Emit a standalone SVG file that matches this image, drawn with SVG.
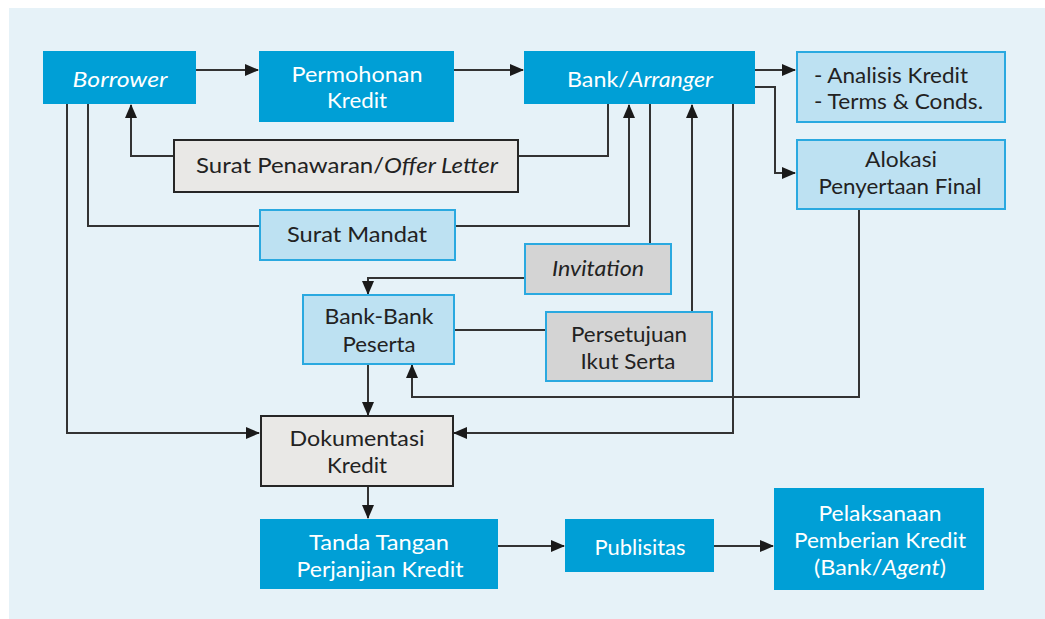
<svg xmlns="http://www.w3.org/2000/svg" width="1045" height="619" viewBox="0 0 1045 619">
<style>
text{font-family:Lato,"Open Sans","Liberation Sans",sans-serif;font-size:21.5px;text-anchor:middle}
.w{fill:#ffffff}
.d{fill:#222222}
.blue{fill:#009fd6;stroke:none}
.lb{fill:#bde1f2;stroke:#2aa9e0;stroke-width:2}
.gr{fill:#d4d4d4;stroke:#2aa9e0;stroke-width:2}
.lg{fill:#e9e8e6;stroke:#262626;stroke-width:2}
.c{fill:none;stroke:#333333;stroke-width:2}
.i{font-style:italic}
</style>
<defs>
<marker id="ah" markerUnits="userSpaceOnUse" markerWidth="14" markerHeight="12" refX="13" refY="6" orient="auto">
<path d="M0,0 L14,6 L0,12 Z" fill="#1a1a1a"/>
</marker>
</defs>
<rect x="0" y="0" width="1045" height="619" fill="#ffffff"/>
<rect x="9" y="8" width="1036" height="611" fill="#e6f2f8"/>

<g id="connectors">
<path class="c" d="M196,70 H258" marker-end="url(#ah)"/>
<path class="c" d="M454,70 H523" marker-end="url(#ah)"/>
<path class="c" d="M755,70 H795" marker-end="url(#ah)"/>
<path class="c" d="M755,87 H775 V173 H795" marker-end="url(#ah)"/>
<path class="c" d="M608,104 V156 H518"/>
<path class="c" d="M173,156 H131 V105" marker-end="url(#ah)"/>
<path class="c" d="M88,104 V226 H259"/>
<path class="c" d="M455,226 H629 V105" marker-end="url(#ah)"/>
<path class="c" d="M650,104 V243"/>
<path class="c" d="M524,278 H368 V294" marker-end="url(#ah)"/>
<path class="c" d="M454,330 H545"/>
<path class="c" d="M692,312 V105" marker-end="url(#ah)"/>
<path class="c" d="M733,104 V433 H454" marker-end="url(#ah)"/>
<path class="c" d="M859,209 V397 H412 V365" marker-end="url(#ah)"/>
<path class="c" d="M67,104 V433 H259" marker-end="url(#ah)"/>
<path class="c" d="M368,364 V415" marker-end="url(#ah)"/>
<path class="c" d="M368,486 V518" marker-end="url(#ah)"/>
<path class="c" d="M498,546 H564" marker-end="url(#ah)"/>
<path class="c" d="M714,546 H773" marker-end="url(#ah)"/>
</g>

<g id="borrower">
<rect class="blue" x="43" y="51" width="153" height="53"/>
<text class="w i" x="120" y="87" textLength="95" lengthAdjust="spacingAndGlyphs">Borrower</text>
</g>
<g id="permohonan">
<rect class="blue" x="259" y="51" width="195" height="71"/>
<text class="w" x="357" y="82" textLength="131" lengthAdjust="spacingAndGlyphs">Permohonan</text>
<text class="w" x="357" y="108" textLength="60" lengthAdjust="spacingAndGlyphs">Kredit</text>
</g>
<g id="arranger">
<rect class="blue" x="524" y="51" width="231" height="53"/>
<text class="w" x="640" y="87" textLength="146" lengthAdjust="spacingAndGlyphs">Bank/<tspan class="i">Arranger</tspan></text>
</g>
<g id="analisis">
<rect class="lb" x="797" y="52" width="208" height="70"/>
<text class="d" x="814" y="83" style="text-anchor:start" textLength="154" lengthAdjust="spacingAndGlyphs">- Analisis Kredit</text>
<text class="d" x="814" y="109" style="text-anchor:start" textLength="169" lengthAdjust="spacingAndGlyphs">- Terms &amp; Conds.</text>
</g>
<g id="alokasi">
<rect class="lb" x="797" y="140" width="208" height="69"/>
<text class="d" x="901" y="167" textLength="72" lengthAdjust="spacingAndGlyphs">Alokasi</text>
<text class="d" x="900" y="194" textLength="163" lengthAdjust="spacingAndGlyphs">Penyertaan Final</text>
</g>
<g id="offer">
<rect class="lg" x="174" y="140" width="344" height="52"/>
<text class="d" x="347" y="173" textLength="302" lengthAdjust="spacingAndGlyphs">Surat Penawaran/<tspan class="i">Offer Letter</tspan></text>
</g>
<g id="mandat">
<rect class="lb" x="260" y="210" width="195" height="50"/>
<text class="d" x="357" y="242" textLength="140" lengthAdjust="spacingAndGlyphs">Surat Mandat</text>
</g>
<g id="invitation">
<rect class="gr" x="525" y="244" width="146" height="50"/>
<text class="d i" x="598" y="276" textLength="92" lengthAdjust="spacingAndGlyphs">Invitation</text>
</g>
<g id="peserta">
<rect class="lb" x="303" y="295" width="151" height="69"/>
<text class="d" x="379" y="324" textLength="109" lengthAdjust="spacingAndGlyphs">Bank-Bank</text>
<text class="d" x="379" y="352" textLength="73" lengthAdjust="spacingAndGlyphs">Peserta</text>
</g>
<g id="persetujuan">
<rect class="gr" x="546" y="312" width="166" height="69"/>
<text class="d" x="629" y="342" textLength="116" lengthAdjust="spacingAndGlyphs">Persetujuan</text>
<text class="d" x="628" y="369" textLength="95" lengthAdjust="spacingAndGlyphs">Ikut Serta</text>
</g>
<g id="dokumentasi">
<rect class="lg" x="261" y="416" width="192" height="70"/>
<text class="d" x="357" y="446" textLength="135" lengthAdjust="spacingAndGlyphs">Dokumentasi</text>
<text class="d" x="357" y="473" textLength="60" lengthAdjust="spacingAndGlyphs">Kredit</text>
</g>
<g id="tandatangan">
<rect class="blue" x="260" y="519" width="238" height="70"/>
<text class="w" x="379" y="550" textLength="140" lengthAdjust="spacingAndGlyphs">Tanda Tangan</text>
<text class="w" x="380" y="577" textLength="167" lengthAdjust="spacingAndGlyphs">Perjanjian Kredit</text>
</g>
<g id="publisitas">
<rect class="blue" x="565" y="519" width="149" height="53"/>
<text class="w" x="640" y="555" textLength="91" lengthAdjust="spacingAndGlyphs">Publisitas</text>
</g>
<g id="pelaksanaan">
<rect class="blue" x="774" y="488" width="210" height="102"/>
<text class="w" x="880" y="521" textLength="123" lengthAdjust="spacingAndGlyphs">Pelaksanaan</text>
<text class="w" x="880" y="548" textLength="172" lengthAdjust="spacingAndGlyphs">Pemberian Kredit</text>
<text class="w" x="880" y="575" textLength="132" lengthAdjust="spacingAndGlyphs">(Bank/<tspan class="i">Agent</tspan>)</text>
</g>
</svg>
